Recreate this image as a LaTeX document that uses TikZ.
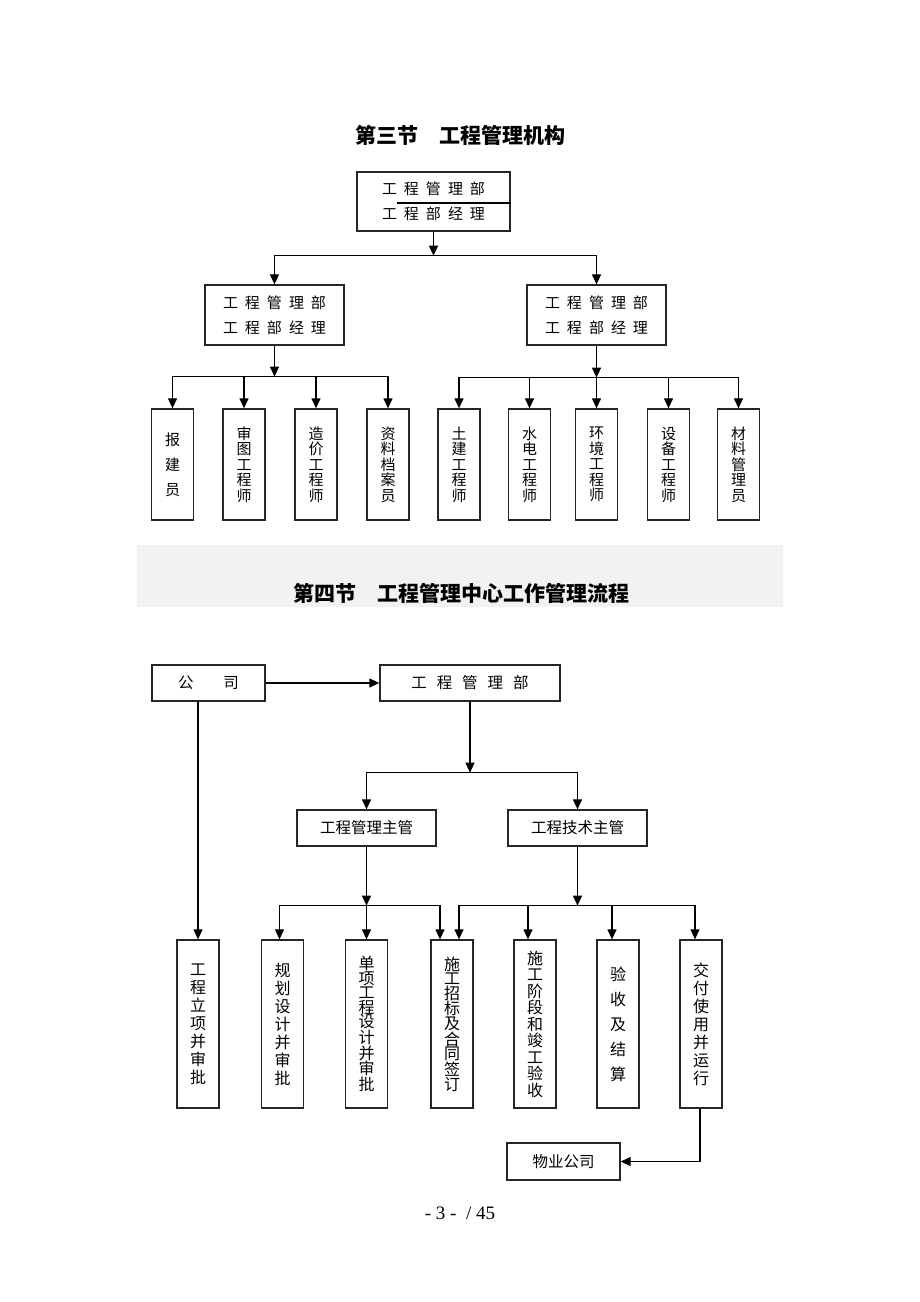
\documentclass[tikz,border=0pt]{standalone}
\usepackage{fontspec}
\setmainfont{Liberation Serif}
\newfontfamily\cjk{Noto Sans CJK SC}
\usetikzlibrary{arrows.meta}

\tikzset{
  box/.style={draw=black!85, line width=1.3pt, inner sep=0pt, align=center,
    font=\cjk\fontsize{15}{25}\selectfont},
  vbox/.style={box, minimum width=42pt, font=\cjk\fontsize{15}{15.5}\selectfont},
  fbox/.style={box, minimum height=36pt, font=\cjk\fontsize{15.5}{18}\selectfont},
  arr/.style={line width=1.2pt, -{Triangle[length=10pt,width=9pt]}},
  rule/.style={line width=1.2pt},
  title/.style={font=\cjk\bfseries\fontsize{21}{24}\selectfont}
}
\newcommand\gap[1][7pt]{\hspace{#1}}

\begin{document}
\begin{tikzpicture}[x=1pt,y=-1pt]
\useasboundingbox[fill=white] (0,0) rectangle (920,1302);

% section 3
\node[title] (t3) at (460,135) {第三节\hspace{21pt}工程管理机构};

\node[box, minimum width=153pt, minimum height=59pt] (gb) at (433.5,201.5)
  {工\gap 程\gap 管\gap 理\gap 部\\工\gap 程\gap 部\gap 经\gap 理};
\draw[rule] ([xshift=-36.5pt,yshift=-1.5pt]gb.center) -- ([yshift=-1.5pt]gb.east);

\node[box, minimum width=139pt, minimum height=60pt] (gl) at (274.5,315)
  {工\gap 程\gap 管\gap 理\gap 部\\工\gap 程\gap 部\gap 经\gap 理};
\node[box, minimum width=139pt, minimum height=60pt] (gr) at (596.5,315)
  {工\gap 程\gap 管\gap 理\gap 部\\工\gap 程\gap 部\gap 经\gap 理};

\draw[arr] (gb.south) -- ++(0,24) coordinate (c1);
\draw[arr] (c1) -| (gl.north);
\draw[arr] (c1) -| (gr.north);

\node[vbox, minimum height=111pt, font=\cjk\fontsize{15}{25}\selectfont] (bj) at (172.5,464.5) {报\\建\\员};
\node[vbox, minimum height=111pt] (st) at (244,464.5) {审\\图\\工\\程\\师};
\node[vbox, minimum height=111pt] (zj) at (316,464.5) {造\\价\\工\\程\\师};
\node[vbox, minimum height=111pt] (zl) at (388,464.5) {资\\料\\档\\案\\员};
\node[vbox, minimum height=111pt] (tj) at (459,464.5) {土\\建\\工\\程\\师};
\node[vbox, minimum height=111pt] (sd) at (529.5,464.5) {水\\电\\工\\程\\师};
\node[vbox, minimum height=111pt] (hj) at (596.5,464.5) {环\\境\\工\\程\\师};
\node[vbox, minimum height=111pt] (sb) at (668.5,464.5) {设\\备\\工\\程\\师};
\node[vbox, minimum height=111pt] (cl) at (738.5,464.5) {材\\料\\管\\理\\员};

\draw[arr] (gl.south) -- ++(0,31) coordinate (c2);
\draw[arr] (c2) -| (bj.north);
\draw[arr] (c2) -| (st.north);
\draw[arr] (c2) -| (zj.north);
\draw[arr] (c2) -| (zl.north);

\draw[arr] (gr.south) -- ++(0,32) coordinate (c3);
\draw[arr] (c3) -| (tj.north);
\draw[arr] (c3) -| (sd.north);
\draw[arr] (c3) -- (hj.north);
\draw[arr] (c3) -| (sb.north);
\draw[arr] (c3) -| (cl.north);

% section 4
\fill[black!5] (137,545) rectangle (783,607);
\node[title] (t4) at (461,593) {第四节\hspace{21pt}工程管理中心工作管理流程};

\node[fbox, minimum width=113pt] (gs) at (208.5,683) {公\hspace{30pt}司};
\node[fbox, minimum width=180pt] (gc) at (470,683)
  {工\gap[10pt]程\gap[10pt]管\gap[10pt]理\gap[10pt]部};
\draw[arr] (gs) -- (gc);

\node[fbox, minimum width=139pt] (zg1) at (366.5,828) {工程管理主管};
\node[fbox, minimum width=139pt] (zg2) at (577.5,828) {工程技术主管};
\draw[arr] (gc.south) -- ++(0,71) coordinate (c4);
\draw[arr] (c4) -| (zg1.north);
\draw[arr] (c4) -| (zg2.north);

\node[vbox, minimum height=168pt, font=\cjk\fontsize{16}{18}\selectfont] (lx) at (198,1024) {工\\程\\立\\项\\并\\审\\批};
\node[vbox, minimum height=168pt, font=\cjk\fontsize{16}{18}\selectfont] (gh) at (282.5,1024) {规\\划\\设\\计\\并\\审\\批};
\node[vbox, minimum height=168pt, font=\cjk\fontsize{16}{14.5}\selectfont] (dx) at (366.5,1024) {单\\项\\工\\程\\设\\计\\并\\审\\批};
\node[vbox, minimum height=168pt, font=\cjk\fontsize{16}{14.5}\selectfont] (zb) at (452,1024) {施\\工\\招\\标\\及\\合\\同\\签\\订};
\node[vbox, minimum height=168pt, font=\cjk\fontsize{16}{16.5}\selectfont] (jd) at (535,1024) {施\\工\\阶\\段\\和\\竣\\工\\验\\收};
\node[vbox, minimum height=168pt, font=\cjk\fontsize{16}{25}\selectfont] (ys) at (618,1024) {验\\收\\及\\结\\算};
\node[vbox, minimum height=168pt, font=\cjk\fontsize{16}{18}\selectfont] (jf) at (701,1024) {交\\付\\使\\用\\并\\运\\行};

\draw[arr] (gs.south -| lx.north) -- (lx.north);

\draw[arr] (zg1.south) -- ++(0,59) coordinate (c5);
\draw[arr] (c5) -| ([xshift=-3pt]gh.north);
\draw[arr] (c5) -- (dx.north);
\draw[arr] (c5) -| ([xshift=-12pt]zb.north);

\draw[arr] (zg2.south) -- ++(0,59) coordinate (c6);
\draw[arr] (c6) -| ([xshift=7pt]zb.north);
\draw[arr] (c6) -| ([xshift=-7pt]jd.north);
\draw[arr] (c6) -| ([xshift=-6pt]ys.north);
\draw[arr] (c6) -| ([xshift=-6pt]jf.north);

\node[fbox, minimum width=113pt, minimum height=37pt] (wy) at (563.5,1161.5) {物业公司};
\draw[arr] ([xshift=-1pt]jf.south) |- (wy.east);

\node[font=\fontsize{19}{22}\selectfont] (pg) at (460,1213) {- 3 -\ \ / 45};
\end{tikzpicture}
\end{document}
